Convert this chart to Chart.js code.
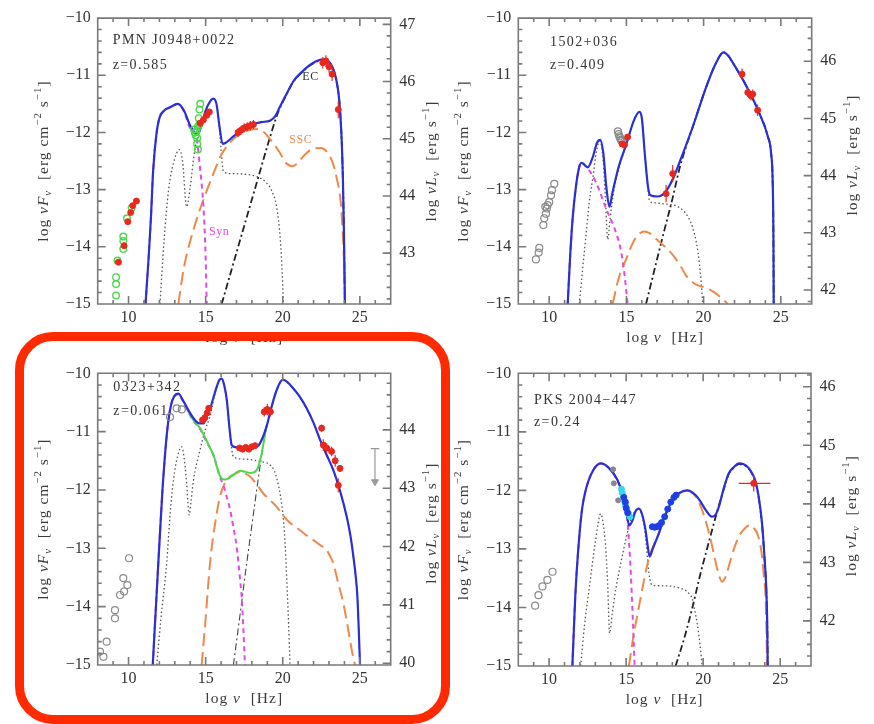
<!DOCTYPE html>
<html>
<head>
<meta charset="utf-8">
<script src="https://cdn.jsdelivr.net/npm/chart.js@4.4.1/dist/chart.umd.min.js"></script>
<style>
html, body { margin: 0; padding: 0; background: #fff; }
body { width: 874px; height: 724px; position: relative; overflow: hidden; }
canvas { position: absolute; }
#box { position: absolute; left: 15px; top: 332px; width: 435px; height: 392px; box-sizing: border-box;
       border: 9px solid #ff2a00; border-radius: 38px; pointer-events: none; }
</style>
</head>
<body>
<canvas id="c1" width="440" height="350" style="left:0;top:0"></canvas>
<canvas id="c2" width="434" height="350" style="left:440px;top:0"></canvas>
<canvas id="c3" width="440" height="374" style="left:0;top:350px"></canvas>
<canvas id="c4" width="434" height="374" style="left:440px;top:350px"></canvas>
<div id="box"></div>
<script>
// tick labels
const xTicks = [10, 15, 20, 25];
const leftTicks = [-15, -14, -13, -12, -11, -10];
const p1RightTicks = [43, 44, 45, 46, 47];
const p2RightTicks = [42, 43, 44, 45, 46];
const p3RightTicks = [40, 41, 42, 43, 44];
const p4RightTicks = [42, 43, 44, 45, 46];

// ---- PMN J0948+0022 ----
const p1Total = [[11.1,-15],[11.3,-14.2],[11.45,-13.5],[11.6,-12.65],[11.8,-12.05],[12.0,-11.75],[12.3,-11.62],[12.7,-11.56],[13.2,-11.5],[13.6,-11.62],[14.0,-11.88],[14.45,-12.04],[14.7,-11.9],[15.0,-11.62],[15.3,-11.45],[15.5,-11.41],[15.7,-11.5],[15.9,-11.9],[16.1,-12.2],[16.3,-12.18],[16.8,-12.07],[17.4,-11.95],[18.0,-11.86],[18.6,-11.82],[19.2,-11.79],[19.5,-11.72],[19.8,-11.56],[20.2,-11.35],[20.7,-11.1],[21.2,-10.95],[21.7,-10.83],[22.2,-10.75],[22.6,-10.72],[22.9,-10.74],[23.2,-10.84],[23.45,-11.05],[23.65,-11.4],[23.8,-12.0],[23.9,-12.8],[23.97,-13.8],[24.03,-15]];
const p1Syn = [[11.1,-15],[11.3,-14.2],[11.45,-13.5],[11.6,-12.65],[11.8,-12.05],[12.0,-11.75],[12.3,-11.62],[12.7,-11.56],[13.2,-11.5],[13.6,-11.64],[14.0,-11.93],[14.4,-12.08],[14.6,-12.53],[14.9,-13.5],[15.0,-14.2],[15.07,-15]];
const p1Disk = [[12.04,-15],[12.3,-13.9],[12.6,-13.0],[12.9,-12.55],[13.3,-12.3],[13.5,-12.5],[13.77,-13.3],[14.0,-12.95],[14.3,-12.3],[14.7,-11.9],[15.1,-11.55],[15.5,-11.41],[15.8,-11.65],[16.0,-12.3],[16.15,-12.68],[16.6,-12.72],[17.5,-12.73],[18.3,-12.77],[18.9,-12.87],[19.3,-13.03],[19.6,-13.3],[19.85,-13.9],[19.97,-14.5],[20.04,-15]];
const p1SSC = [[13.23,-15],[13.6,-14.35],[14.0,-13.9],[14.5,-13.45],[15.0,-13.07],[15.5,-12.72],[16.0,-12.4],[16.5,-12.2],[17.0,-12.07],[17.5,-11.99],[18.0,-11.95],[18.4,-11.94],[18.8,-12.0],[19.3,-12.16],[19.8,-12.35],[20.2,-12.53],[20.6,-12.59],[20.9,-12.55],[21.4,-12.4],[21.9,-12.29],[22.5,-12.27],[22.8,-12.32],[23.2,-12.5],[23.5,-12.8],[23.75,-13.2],[23.9,-13.8],[24.0,-14.5],[24.04,-15]];
const p1EC = [[16.04,-15],[17.0,-14.1],[18.0,-13.17],[19.0,-12.24],[19.5,-11.8],[19.8,-11.58],[20.2,-11.36],[20.7,-11.11],[21.2,-10.96],[21.7,-10.84],[22.2,-10.76],[22.6,-10.73],[22.9,-10.75],[23.2,-10.85],[23.45,-11.06],[23.65,-11.41],[23.8,-12.01],[23.9,-12.81],[23.97,-13.8],[24.03,-15]];
const p1RedRadio = [[9.34,-14.27],[9.71,-13.98],[9.95,-13.56],[10.14,-13.4],[10.27,-13.28],[10.51,-13.2]];
const p1GreenRadio = [[9.19,-14.53],[9.19,-14.65],[9.19,-14.85],[9.28,-14.24],[9.66,-13.82],[9.66,-13.9],[9.66,-14.04],[9.9,-13.5],[10.2,-13.32]];
const p1GreenOpt = [[14.25,-11.95],[14.3,-12.0],[14.35,-12.05],[14.4,-11.98],[14.45,-12.2],[14.5,-12.3],[14.5,-11.9],[14.55,-11.75],[14.6,-11.6],[14.65,-11.5],[14.45,-12.1],[14.6,-11.85]];
const p1Red = [[14.64,-11.84],[14.85,-11.78],[15.07,-11.7],[15.24,-11.64],[17.1,-12.0],[17.3,-11.96],[17.5,-11.92],[17.7,-11.9],[17.9,-11.88],[18.1,-11.86],[22.6,-10.78],[22.8,-10.75],[23.0,-10.85],[23.2,-10.98],[23.6,-11.6]];
const p1RedErr = [0.05,0.05,0.05,0.05,0.08,0.08,0.08,0.08,0.08,0.08,0.1,0.1,0.1,0.12,0.15];

// ---- 1502+036 ----
const p2Total = [[11.2,-15],[11.35,-14.2],[11.52,-13.5],[11.74,-12.93],[11.95,-12.6],[12.1,-12.53],[12.3,-12.57],[12.5,-12.61],[12.8,-12.45],[13.1,-12.18],[13.3,-12.13],[13.5,-12.35],[13.7,-12.95],[13.9,-13.3],[14.1,-13.05],[14.5,-12.6],[15.0,-12.2],[15.5,-11.78],[15.84,-11.64],[16.0,-11.75],[16.2,-12.4],[16.4,-12.95],[16.55,-13.1],[17.0,-13.12],[17.5,-13.05],[18.0,-12.82],[18.43,-12.53],[19.3,-11.9],[20.16,-11.21],[20.81,-10.78],[21.28,-10.6],[21.6,-10.66],[21.89,-10.78],[22.75,-11.18],[23.62,-11.67],[24.16,-12.07],[24.37,-12.36],[24.48,-12.93],[24.52,-13.8],[24.54,-15]];
const p2Syn = [[11.2,-15],[11.35,-14.2],[11.52,-13.5],[11.74,-12.93],[11.95,-12.6],[12.1,-12.53],[12.4,-12.6],[12.82,-12.76],[13.2,-12.98],[13.68,-13.33],[14.22,-13.67],[14.65,-14.07],[14.87,-14.47],[15.08,-15]];
const p2Disk = [[11.95,-15],[12.2,-14.3],[12.4,-13.75],[12.6,-13.2],[12.82,-12.81],[13.05,-12.35],[13.29,-12.15],[13.5,-12.5],[13.65,-13.2],[13.79,-13.87],[13.95,-13.5],[14.2,-13.0],[14.6,-12.55],[15.0,-12.2],[15.5,-11.78],[15.84,-11.64],[16.0,-11.75],[16.2,-12.4],[16.4,-13.0],[16.5,-13.2],[16.8,-13.23],[17.5,-13.25],[18.2,-13.28],[18.65,-13.36],[19.0,-13.48],[19.3,-13.67],[19.55,-13.95],[19.73,-14.3],[19.85,-14.65],[19.94,-15]];
const p2SSC = [[14.11,-15],[14.5,-14.55],[14.98,-14.22],[15.3,-14.0],[15.62,-13.84],[16.16,-13.73],[16.5,-13.76],[16.92,-13.86],[17.5,-14.0],[18.0,-14.14],[18.5,-14.33],[18.86,-14.5],[19.2,-14.6],[19.51,-14.66],[20.16,-14.72],[20.6,-14.78],[21.0,-14.86],[21.3,-14.93],[21.56,-15]];
const p2EC = [[16.27,-15],[16.8,-14.42],[17.4,-13.77],[18.0,-13.14],[18.43,-12.64],[18.8,-12.3],[19.3,-11.9],[20.16,-11.21],[20.81,-10.78],[21.28,-10.6],[21.6,-10.66],[21.89,-10.78],[22.75,-11.18],[23.62,-11.67],[24.16,-12.07],[24.37,-12.36],[24.48,-12.93],[24.52,-13.8],[24.54,-15]];
const p2Gray = [[9.14,-14.22],[9.32,-14.1],[9.36,-14.02],[9.62,-13.62],[9.68,-13.5],[9.79,-13.42],[9.75,-13.3],[9.85,-13.33],[9.9,-13.27],[10.0,-13.22],[10.12,-13.1],[10.18,-13.01],[10.33,-12.9],[14.45,-11.98],[14.5,-12.03],[14.55,-12.07],[14.6,-12.1],[14.65,-12.13],[14.7,-12.15]];
const p2Red = [[14.72,-12.2],[14.87,-12.22],[15.08,-12.08],[17.57,-13.07],[18.0,-12.72],[22.49,-10.98],[22.86,-11.3],[23.07,-11.36],[23.18,-11.33],[23.5,-11.61]];
const p2RedErr = [0.04,0.04,0.04,0.15,0.15,0.1,0.08,0.08,0.08,0.1];

// ---- 0323+342 ----
const p3Total = [[11.57,-15],[11.9,-13.4],[12.2,-12.0],[12.5,-11.0],[12.75,-10.55],[12.95,-10.4],[13.23,-10.35],[13.5,-10.45],[13.9,-10.64],[14.3,-10.8],[14.64,-10.86],[14.85,-10.86],[15.1,-10.72],[15.3,-10.6],[15.5,-10.42],[15.72,-10.23],[15.9,-10.11],[16.04,-10.09],[16.2,-10.2],[16.37,-10.45],[16.55,-10.95],[16.69,-11.23],[17.01,-11.27],[17.6,-11.28],[18.1,-11.27],[18.42,-11.24],[18.7,-11.1],[18.96,-10.9],[19.3,-10.55],[19.6,-10.29],[20.0,-10.11],[20.3,-10.15],[20.69,-10.26],[21.1,-10.4],[21.55,-10.6],[22.0,-10.85],[22.42,-11.14],[22.85,-11.4],[23.28,-11.66],[23.7,-12.0],[24.15,-12.46],[24.4,-12.8],[24.58,-13.14],[24.74,-13.5],[24.84,-13.83],[24.93,-14.4],[25.01,-15]];
const p3Jet = [[13.8,-10.62],[14.2,-10.8],[14.64,-10.94],[15.07,-11.16],[15.5,-11.4],[15.93,-11.76],[16.2,-11.82],[16.5,-11.8],[16.8,-11.74],[17.23,-11.67],[17.6,-11.69],[17.88,-11.71],[18.31,-11.66],[18.64,-11.37],[18.85,-11.04],[18.96,-10.9]];
const p3Syn = [[11.57,-15],[11.9,-13.4],[12.2,-12.0],[12.5,-11.0],[12.75,-10.55],[12.95,-10.4],[13.23,-10.36],[13.5,-10.46],[13.8,-10.63],[14.2,-10.81],[14.64,-10.96],[15.07,-11.18],[15.5,-11.4],[15.93,-11.78],[16.15,-11.92],[16.4,-12.15],[16.58,-12.33],[16.8,-12.64],[17.01,-12.97],[17.2,-13.45],[17.34,-13.85],[17.45,-14.4],[17.55,-15]];
const p3Disk = [[11.83,-15],[12.1,-14.2],[12.47,-13.26],[12.7,-12.4],[12.91,-11.83],[13.2,-11.4],[13.45,-11.26],[13.65,-11.55],[13.77,-11.9],[13.94,-12.43],[14.05,-12.2],[14.2,-11.85],[14.64,-11.31],[15.0,-10.95],[15.28,-10.74],[15.6,-10.35],[15.85,-10.15],[16.04,-10.09],[16.2,-10.2],[16.37,-10.5],[16.6,-11.1],[16.8,-11.43],[17.45,-11.47],[18.53,-11.51],[19.18,-11.57],[19.45,-11.67],[19.61,-11.8],[19.85,-12.1],[20.04,-12.5],[20.17,-13.0],[20.26,-13.54],[20.38,-14.3],[20.47,-15]];
const p3SSC = [[14.74,-15],[15.0,-14.2],[15.28,-13.26],[15.6,-12.6],[15.93,-12.11],[16.25,-11.88],[16.58,-11.77],[17.0,-11.71],[17.23,-11.69],[17.5,-11.71],[17.88,-11.77],[18.3,-11.9],[18.74,-12.06],[19.2,-12.18],[19.61,-12.29],[20.26,-12.51],[20.7,-12.61],[21.12,-12.69],[21.55,-12.78],[21.99,-12.86],[22.45,-12.95],[22.85,-13.03],[23.1,-13.15],[23.28,-13.26],[23.6,-13.6],[23.93,-13.94],[24.15,-14.25],[24.36,-14.57],[24.55,-14.85],[24.69,-15]];
const p3EC = [[16.8,-15],[17.2,-14.2],[17.66,-13.26],[18.0,-12.6],[18.31,-12.0],[18.55,-11.55],[18.74,-11.22],[18.96,-10.92],[19.3,-10.56],[19.6,-10.3],[20.0,-10.12],[20.3,-10.16],[20.69,-10.27],[21.1,-10.41],[21.55,-10.61],[22.0,-10.86],[22.42,-11.15],[22.85,-11.41],[23.28,-11.67],[23.7,-12.01],[24.15,-12.47],[24.4,-12.81],[24.58,-13.15],[24.74,-13.51],[24.84,-13.84],[24.93,-14.41],[25.01,-15]];
const p3Gray = [[8.15,-14.77],[8.37,-14.86],[8.58,-14.6],[9.12,-14.06],[9.12,-14.2],[9.45,-13.8],[9.66,-13.51],[9.71,-13.74],[9.92,-13.63],[10.03,-13.17],[12.69,-10.75],[13.12,-10.6],[13.45,-10.62]];
const p3Red = [[14.8,-10.8],[14.95,-10.76],[15.1,-10.68],[15.2,-10.6],[17.2,-11.28],[17.4,-11.3],[17.6,-11.27],[17.8,-11.3],[18.0,-11.26],[18.2,-11.24],[18.8,-10.66],[19.0,-10.62],[19.2,-10.66],[22.52,-10.94],[22.63,-11.23],[22.85,-11.28],[23.17,-11.34],[23.4,-11.5],[23.71,-11.63],[23.6,-11.92]];
const p3RedErr = [0.05,0.05,0.05,0.05,0.04,0.04,0.04,0.04,0.04,0.04,0.08,0.1,0.08,0.06,0.1,0.08,0.08,0.1,0.06,0.12];
const p3Limit = [25.98, -11.29, -11.86];   // x, from, to (upper limit arrow)

// ---- PKS 2004-447 ----
const p4Total = [[11.51,-15],[11.7,-13.8],[11.94,-12.85],[12.15,-12.3],[12.38,-11.99],[12.81,-11.68],[13.35,-11.54],[13.89,-11.62],[14.43,-11.82],[14.75,-12.05],[14.97,-12.28],[15.1,-12.5],[15.2,-12.6],[15.4,-12.52],[15.6,-12.36],[15.83,-12.31],[16.05,-12.42],[16.26,-12.68],[16.4,-12.95],[16.52,-13.13],[16.75,-12.98],[17.13,-12.73],[17.45,-12.48],[17.78,-12.28],[18.1,-12.13],[18.42,-12.05],[18.96,-12.0],[19.5,-12.08],[19.85,-12.2],[20.15,-12.33],[20.58,-12.45],[20.8,-12.42],[21.02,-12.28],[21.35,-11.95],[21.66,-11.71],[22.0,-11.6],[22.31,-11.54],[22.6,-11.55],[22.96,-11.62],[23.2,-11.72],[23.39,-11.84],[23.6,-12.1],[23.82,-12.56],[23.97,-13.1],[24.1,-13.7],[24.16,-14.3],[24.19,-15]];
const p4Syn = [[11.51,-15],[11.7,-13.8],[11.94,-12.85],[12.15,-12.3],[12.38,-11.99],[12.81,-11.68],[13.35,-11.54],[13.89,-11.62],[14.43,-11.83],[14.75,-12.06],[14.97,-12.3],[15.1,-12.55],[15.18,-12.85],[15.3,-13.4],[15.4,-13.99],[15.48,-14.5],[15.55,-15]];
const p4Disk = [[12.05,-15],[12.3,-14.3],[12.59,-13.7],[13.02,-12.85],[13.35,-12.4],[13.5,-12.55],[13.67,-12.96],[13.8,-13.6],[13.93,-14.44],[14.1,-14.1],[14.32,-13.7],[14.65,-13.25],[14.97,-12.85],[15.3,-12.5],[15.6,-12.35],[15.83,-12.31],[16.05,-12.45],[16.26,-12.8],[16.48,-13.42],[16.7,-13.62],[17.5,-13.63],[18.0,-13.64],[18.5,-13.67],[18.86,-13.71],[19.1,-13.77],[19.29,-13.85],[19.45,-14.05],[19.61,-14.27],[19.8,-14.65],[19.94,-15]];
const p4SSC = [[15.18,-15],[15.5,-14.45],[15.83,-13.99],[16.15,-13.55],[16.48,-13.15],[16.8,-12.93],[17.13,-12.73],[17.45,-12.49],[17.78,-12.29],[18.1,-12.14],[18.42,-12.05],[18.96,-12.0],[19.5,-12.1],[19.85,-12.28],[20.15,-12.51],[20.45,-12.8],[20.69,-13.08],[20.95,-13.38],[21.23,-13.56],[21.45,-13.48],[21.66,-13.3],[22.0,-13.0],[22.31,-12.79],[22.7,-12.65],[23.07,-12.59],[23.3,-12.65],[23.5,-12.73],[23.7,-12.92],[23.82,-13.13],[23.95,-13.5],[24.04,-13.76],[24.1,-14.3],[24.15,-15]];
const p4EC = [[18.21,-15],[18.8,-14.5],[19.3,-14.0],[19.8,-13.45],[20.3,-12.95],[20.91,-12.36],[21.35,-11.97],[21.66,-11.72],[22.0,-11.61],[22.31,-11.55],[22.6,-11.56],[22.96,-11.63],[23.2,-11.73],[23.39,-11.85],[23.6,-12.12],[23.82,-12.58],[23.97,-13.12],[24.1,-13.72],[24.16,-14.3],[24.19,-15]];
const p4Gray = [[9.09,-13.97],[9.31,-13.79],[9.57,-13.64],[9.89,-13.53],[10.22,-13.39]];
const p4GrayDots = [[14.16,-11.64],[14.2,-11.88],[14.48,-12.17]];
const p4Cyan = [[14.7,-11.98],[14.75,-12.05],[14.82,-12.1],[14.88,-12.18],[14.95,-12.25],[15.05,-12.33],[15.15,-12.4],[15.25,-12.45]];
const p4Blue = [[14.85,-12.12],[14.95,-12.2],[15.0,-12.3],[15.1,-12.38],[16.7,-12.62],[16.85,-12.63],[17.0,-12.62],[17.15,-12.6],[17.3,-12.55],[17.5,-12.45],[17.7,-12.32],[17.9,-12.2],[18.1,-12.12],[18.25,-12.08]];
const p4Red = [[23.28,-11.88]];
const p4RedErr = [0.14];
const p4RedXErr = [[22.31, 24.36]];

const BLUE = '#2b2fd6', MAG = '#e24ae2', ORA = '#ec8a4c', RED = '#e8281e', GRN = '#4bd84b';
const FONT = "'Liberation Serif', 'Times New Roman', serif";

function pts(a) { return a.map(p => ({ x: p[0], y: p[1] })); }
function curve(a, color, width, dash) {
  return { data: pts(a), borderColor: color, borderWidth: width, borderDash: dash || [],
           pointRadius: 0, showLine: true, fill: false, cubicInterpolationMode: 'monotone' };
}
function dots(a, fillColor, lineColor, r, bw, style, rot) {
  return { data: pts(a), showLine: false, pointRadius: r, pointStyle: style || 'circle', pointRotation: rot || 0,
           pointBackgroundColor: fillColor, pointBorderColor: lineColor, pointBorderWidth: bw };
}
function bars(a, err, color) {
  const d = [];
  a.forEach((p, i) => { d.push({ x: p[0], y: p[1] - err[i] }, { x: p[0], y: p[1] + err[i] }, { x: p[0], y: null }); });
  return { data: d, borderColor: color, borderWidth: 1.2, pointRadius: 0, showLine: true, spanGaps: false };
}
function hbars(a, xe, color) {
  const d = [];
  a.forEach((p, i) => { d.push({ x: xe[i][0], y: p[1] }, { x: xe[i][1], y: p[1] }, { x: xe[i][1], y: null }); });
  return { data: d, borderColor: color, borderWidth: 1.2, pointRadius: 0, showLine: true, spanGaps: false };
}

const EC_DASH = [7, 3, 2, 3], DOT = [1.5, 2.5], SYN_DASH = [5, 4], SSC_DASH = [13, 6];

const panels = [
  { id: 'c1', w: 440, h: 350, l: 97.7, t: 12.7, r: 390.7, b: 304, off: 57.11, right: p1RightTicks,
    name: 'PMN J0948+0022', z: 'z=0.585', nx: 15, ny: 22, zy: 47, ry: 0,
    tags: [['EC', 21.8, -11.03, '#333'], ['SSC', 21.17, -12.13, ORA], ['Syn', 15.87, -13.73, MAG]],
    sets: [
      dots(p1Red, RED, RED, 3, 1), bars(p1Red, p1RedErr, RED),
      dots(p1RedRadio, RED, RED, 3, 1),
      dots(p1GreenRadio, 'rgba(0,0,0,0)', GRN, 3.3, 1.4), dots(p1GreenOpt, 'rgba(0,0,0,0)', GRN, 3.3, 1.4),
      curve(p1Total, BLUE, 2.2), curve(p1Syn, MAG, 2, SYN_DASH), curve(p1SSC, ORA, 2, SSC_DASH),
      curve(p1EC, '#222', 1.8, EC_DASH), curve(p1Disk, '#555', 1.3, DOT)
    ] },
  { id: 'c2', w: 434, h: 350, l: 78.3, t: 12.7, r: 371.7, b: 304, off: 56.755, right: p2RightTicks,
    name: '1502+036', z: 'z=0.409', nx: 31.7, ny: 24, zy: 47.3, ry: -6, tags: [],
    sets: [
      dots(p2Red, RED, RED, 3, 1), bars(p2Red, p2RedErr, RED),
      dots(p2Gray, 'rgba(0,0,0,0)', '#8a8a8a', 3.5, 1.2),
      curve(p2Total, BLUE, 2.2), curve(p2Syn, MAG, 2, SYN_DASH), curve(p2SSC, ORA, 2, SSC_DASH),
      curve(p2EC, '#222', 1.8, EC_DASH), curve(p2Disk, '#555', 1.3, DOT)
    ] },
  { id: 'c3', w: 440, h: 374, l: 97.7, t: 23.3, r: 390.7, b: 315, off: 54.97, right: p3RightTicks,
    name: '0323+342', z: 'z=0.061', nx: 15.6, ny: 13.7, zy: 37.7, ry: 4, tags: [],
    sets: [
      dots(p3Red, RED, RED, 3, 1), bars(p3Red, p3RedErr, RED),
      dots(p3Gray, 'rgba(0,0,0,0)', '#8a8a8a', 3.5, 1.2),
      dots([[p3Limit[0], p3Limit[2]]], '#999', '#999', 4, 1, 'triangle', 180),
      { data: [{ x: p3Limit[0], y: p3Limit[1] }, { x: p3Limit[0], y: p3Limit[2] }], borderColor: '#999', borderWidth: 1.2, pointRadius: 0, showLine: true },
      { data: [{ x: p3Limit[0] - 0.28, y: p3Limit[1] }, { x: p3Limit[0] + 0.28, y: p3Limit[1] }], borderColor: '#999', borderWidth: 1.2, pointRadius: 0, showLine: true },
      curve(p3Total, BLUE, 2.2), curve(p3Jet, GRN, 2), curve(p3Syn, MAG, 2, SYN_DASH), curve(p3SSC, ORA, 2, SSC_DASH),
      curve(p3EC, '#444', 1.1, EC_DASH), curve(p3Disk, '#555', 1.3, DOT)
    ] },
  { id: 'c4', w: 434, h: 374, l: 78.3, t: 23.3, r: 371, b: 316, off: 56.23, right: p4RightTicks,
    name: 'PKS 2004\u2212447', z: 'z=0.24', nx: 15.7, ny: 26.7, zy: 48.7, ry: -4, tags: [],
    sets: [
      dots(p4Red, RED, RED, 3, 1), bars(p4Red, p4RedErr, RED), hbars(p4Red, p4RedXErr, RED),
      dots(p4Blue, '#1f3fe6', '#1f3fe6', 3, 1), dots(p4Cyan, '#35d8e8', '#35d8e8', 3, 1),
      dots(p4GrayDots, '#888', '#888', 2.5, 1),
      dots(p4Gray, 'rgba(0,0,0,0)', '#8a8a8a', 3.5, 1.2),
      curve(p4Total, BLUE, 2.2), curve(p4Syn, MAG, 2, SYN_DASH), curve(p4SSC, ORA, 2, SSC_DASH),
      curve(p4EC, '#222', 1.8, EC_DASH), curve(p4Disk, '#555', 1.3, DOT)
    ] }
];

// rich text: parts = [text, kind] kind: n normal, i italic, sub, sup
function rich(ctx, parts, size) {
  const f = k => (k === 'i' || k === 'isub' ? 'italic ' : '') + ((k === 'sub' || k === 'isub' || k === 'sup') ? size * 0.7 : size) + 'px ' + FONT;
  let w = 0;
  parts.forEach(([t, k]) => { ctx.font = f(k); w += ctx.measureText(t).width; });
  let x = -w / 2;
  parts.forEach(([t, k]) => {
    ctx.font = f(k);
    const dy = (k === 'sub' || k === 'isub') ? size * 0.28 : (k === 'sup' ? -size * 0.38 : 0);
    ctx.fillText(t, x, dy);
    x += ctx.measureText(t).width;
  });
}
const leftTitle = [['log ', 'n'], ['\u03bdF', 'i'], ['\u03bd', 'isub'], ['  [erg cm', 'n'], ['\u22122', 'sup'], [' s', 'n'], ['\u22121', 'sup'], [']', 'n']];
const rightTitle = [['log ', 'n'], ['\u03bdL', 'i'], ['\u03bd', 'isub'], ['  [erg s', 'n'], ['\u22121', 'sup'], [']', 'n']];
const bottomTitle = [['log ', 'n'], ['\u03bd', 'i'], ['  [Hz]', 'n']];

const framePlugin = {
  id: 'frame',
  afterDraw(chart, args, o) {
    const ctx = chart.ctx, a = chart.chartArea;
    const sx = chart.scales.x, sy = chart.scales.y, sy2 = chart.scales.y2;
    ctx.save();
    ctx.setLineDash([]);
    ctx.globalAlpha = 1;
    ctx.strokeStyle = '#7a7a7a';
    ctx.lineWidth = 1.6;
    ctx.beginPath();
    for (let v = 8; v <= 27; v++) {
      const px = sx.getPixelForValue(v), len = v % 5 ? 4 : 8;
      ctx.moveTo(px, a.bottom); ctx.lineTo(px, a.bottom - len);
      ctx.moveTo(px, a.top); ctx.lineTo(px, a.top + len);
    }
    for (let i = 0; i <= 25; i++) {
      const py = sy.getPixelForValue(-15 + i * 0.2), len = i % 5 ? 4 : 8;
      ctx.moveTo(a.left, py); ctx.lineTo(a.left + len, py);
    }
    const lo = Math.ceil(sy2.min * 5 - 1e-6), hi = Math.floor(sy2.max * 5 + 1e-6);
    for (let k = lo; k <= hi; k++) {
      const py = sy2.getPixelForValue(k / 5), len = k % 5 ? 4 : 8;
      ctx.moveTo(a.right, py); ctx.lineTo(a.right - len, py);
    }
    ctx.moveTo(a.left, a.top); ctx.lineTo(a.right, a.top); ctx.lineTo(a.right, a.bottom);
    ctx.lineTo(a.left, a.bottom); ctx.closePath();
    ctx.stroke();

    ctx.fillStyle = '#3a3a3a';
    ctx.textBaseline = 'middle';
    ctx.letterSpacing = '1px';
    ctx.save(); ctx.translate(a.left - 54, (a.top + a.bottom) / 2); ctx.rotate(-Math.PI / 2); rich(ctx, leftTitle, 15.5); ctx.restore();
    ctx.save(); ctx.translate(a.right + 41, (a.top + a.bottom) / 2 + o.ry); ctx.rotate(-Math.PI / 2); rich(ctx, rightTitle, 15.5); ctx.restore();
    ctx.save(); ctx.translate((a.left + a.right) / 2, a.bottom + 33.5); rich(ctx, bottomTitle, 15.5); ctx.restore();

    ctx.fillStyle = '#333';
    ctx.textAlign = 'left';
    ctx.letterSpacing = '1.4px';
    ctx.font = '14px ' + FONT;
    ctx.fillText(o.name, a.left + o.nx, a.top + o.ny);
    ctx.fillText(o.z, a.left + o.nx, a.top + o.zy);
    ctx.textAlign = 'center';
    ctx.letterSpacing = '0.5px';
    ctx.font = '12px ' + FONT;
    o.tags.forEach(([t, x, y, c]) => { ctx.fillStyle = c; ctx.fillText(t, sx.getPixelForValue(x), sy.getPixelForValue(y)); });
    ctx.restore();
  }
};

const fmt = v => (v < 0 ? '\u2212' + Math.abs(v) : String(v));

panels.forEach(P => {
  const tickOpts = { font: { family: FONT, size: 16 }, color: '#333', callback: fmt, autoSkip: false, maxRotation: 0 };
  const noGrid = { display: false, drawTicks: false };
  new Chart(document.getElementById(P.id), {
    type: 'line',
    data: { datasets: P.sets },
    options: {
      responsive: false,
      animation: false,
      events: [],
      layout: { padding: { top: P.t, left: 0, right: 0, bottom: 0 } },
      plugins: {
        legend: { display: false }, tooltip: { enabled: false },
        frame: { name: P.name, z: P.z, nx: P.nx, ny: P.ny, zy: P.zy, ry: P.ry, tags: P.tags }
      },
      scales: {
        x: { type: 'linear', position: 'bottom', min: 8, max: 27,
             grid: noGrid, border: { display: false },
             ticks: Object.assign({}, tickOpts, { padding: 4 }),
             afterBuildTicks: s => { s.ticks = xTicks.map(v => ({ value: v })); },
             afterFit: s => { s.height = P.h - P.b; } },
        y: { type: 'linear', position: 'left', min: -15, max: -10,
             grid: noGrid, border: { display: false },
             ticks: Object.assign({}, tickOpts, { padding: 7 }),
             afterBuildTicks: s => { s.ticks = leftTicks.map(v => ({ value: v })); },
             afterFit: s => { s.width = P.l; } },
        y2: { type: 'linear', position: 'right', min: -15 + P.off, max: -10 + P.off,
              grid: noGrid, border: { display: false },
              ticks: Object.assign({}, tickOpts, { padding: 8.5 }),
              afterBuildTicks: s => { s.ticks = P.right.map(v => ({ value: v })); },
              afterFit: s => { s.width = P.w - P.r; } }
      }
    },
    plugins: [framePlugin]
  });
});
</script>
</body>
</html>
